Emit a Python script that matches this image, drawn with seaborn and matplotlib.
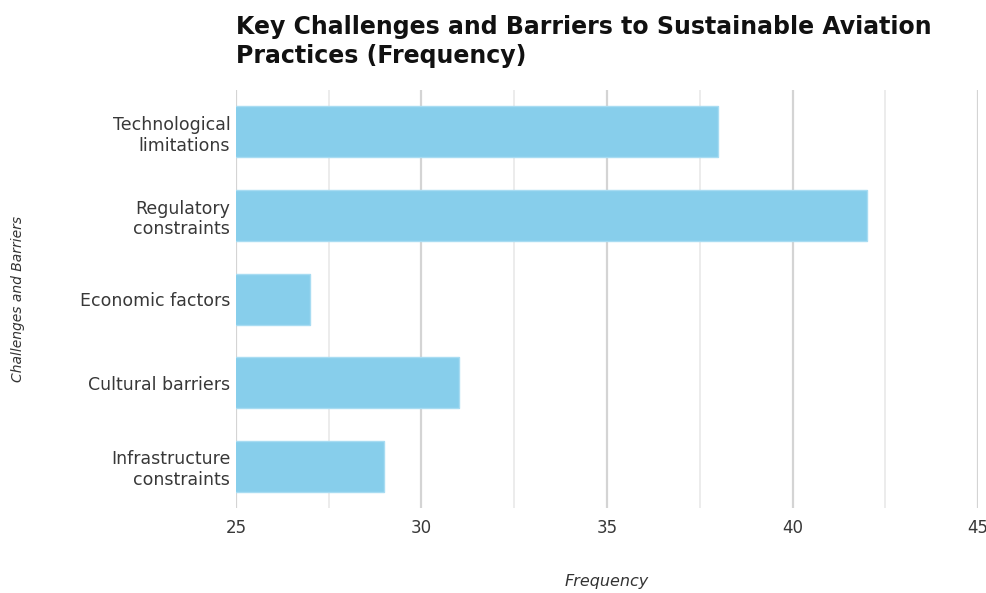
import matplotlib
matplotlib.use("Agg")
import matplotlib.pyplot as plt
from matplotlib.ticker import MultipleLocator
import seaborn as sns
import pandas as pd

categories = [
    "Technological\nlimitations",
    "Regulatory\nconstraints",
    "Economic factors",
    "Cultural barriers",
    "Infrastructure\nconstraints",
]
frequency = [38, 42, 27, 31, 29]
x_ticks = [25, 30, 35, 40, 45]

sns.set_theme(style="white")
plt.rcParams["font.family"] = ["DejaVu Sans"]

df = pd.DataFrame({"Challenge": categories, "Frequency": frequency})

fig = plt.figure(figsize=(9.87, 5.93), dpi=100)
ax = fig.add_axes([0.239, 0.143, 0.752, 0.705])

sns.barplot(
    data=df, y="Challenge", x="Frequency", orient="h",
    color="#87CEEB", edgecolor="#a8dcf2", linewidth=1.0,
    width=0.61, saturation=1, ax=ax,
)

ax.set_xlim(25, 45)
ax.set_ylim(4.5, -0.5)
ax.set_xticks(x_ticks)
ax.xaxis.set_minor_locator(MultipleLocator(2.5))
ax.grid(axis="x", which="major", color="#d4d4d4", linewidth=1.6)
ax.grid(axis="x", which="minor", color="#ececec", linewidth=1.4)
ax.grid(axis="y", visible=False)
ax.set_axisbelow(True)
for s in ax.spines.values():
    s.set_visible(False)
ax.tick_params(axis="both", which="both", length=0, colors="#383838")
ax.tick_params(axis="x", labelsize=12, pad=8)
ax.tick_params(axis="y", labelsize=12.5, pad=4)
for lbl in ax.get_yticklabels():
    lbl.set_horizontalalignment("right")
    lbl.set_multialignment("right")
    lbl.set_linespacing(1.2)

ax.set_xlabel("Frequency", fontsize=11.5, style="italic", color="#333333", va="center")
ax.xaxis.set_label_coords(0.5, -0.176)
ax.set_ylabel("Challenges and Barriers", fontsize=10, style="italic", color="#333333", va="center")
ax.yaxis.set_label_coords(-0.2935, 0.5)

fig.text(0.239, 0.975, "Key Challenges and Barriers to Sustainable Aviation\nPractices (Frequency)",
         ha="left", va="top", fontsize=17, fontweight="bold", color="#111111", linespacing=1.25)

fig.savefig("out.png", dpi=100)
